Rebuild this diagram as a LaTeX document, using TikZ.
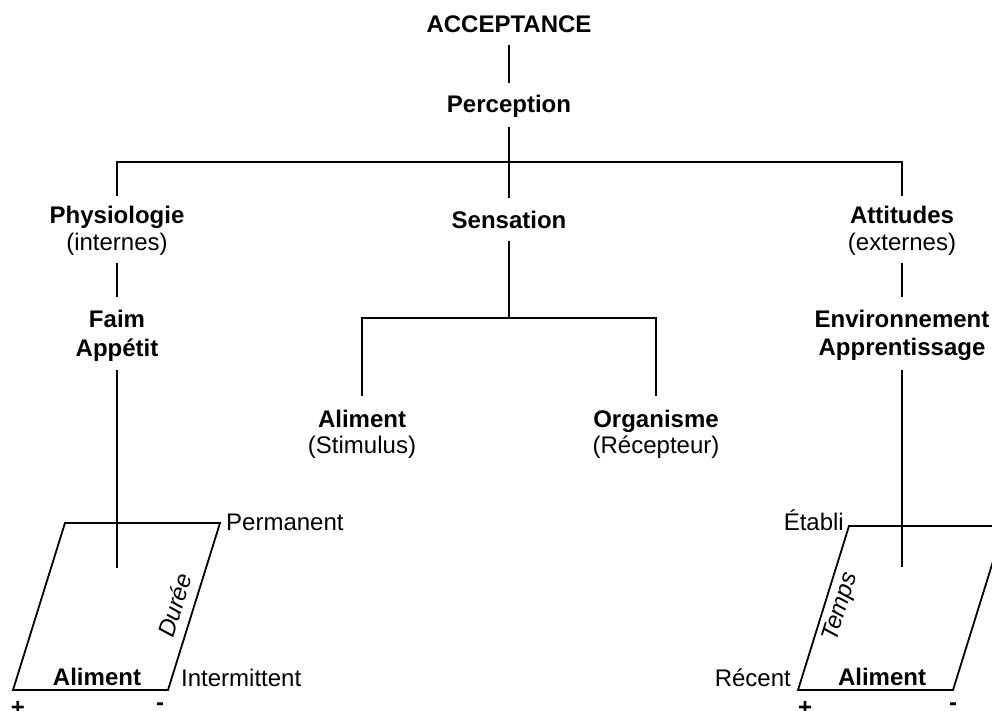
\documentclass[tikz,border=0pt]{standalone}
\usepackage{fontspec}
\setmainfont{Liberation Sans}
\begin{document}
\begin{tikzpicture}[x=1pt,y=-1pt,
  lbl/.style={inner sep=0pt, anchor=base, text height=17pt, text depth=5pt, font=\fontsize{24}{28}\selectfont},
  hd/.style={lbl, font=\fontsize{24}{28}\selectfont\bfseries},
  slanted/.style={lbl, anchor=center, rotate=72.7, font=\fontsize{24}{28}\selectfont\itshape},
  conn/.style={line width=1.6pt},
  frame/.style={line width=1.8pt, line join=miter}]
\useasboundingbox (0,0) rectangle (992,711);

% tree nodes
\node[hd] (acc) at (509,33) {ACCEPTANCE};
\node[hd] (perc) at (509,113) {Perception};
\node[hd] (phys) at (117,223) {Physiologie};
\node[lbl] (int) at (117,251) {(internes)};
\node[hd] (sens) at (509,229) {Sensation};
\node[hd] (att) at (902,223) {Attitudes};
\node[lbl] (ext) at (902,251) {(externes)};
\node[hd] (faim) at (117,327) {Faim};
\node[hd] (app) at (117,356) {Appétit};
\node[hd] (env) at (902,327) {Environnement};
\node[hd] (appr) at (902,355) {Apprentissage};
\node[hd] (alim) at (362,427) {Aliment};
\node[lbl] (stim) at (362,453) {(Stimulus)};
\node[hd] (org) at (656,427) {Organisme};
\node[lbl] (rec) at (656,453) {(Récepteur)};

% junctions and free ends
\coordinate (tj) at (509,162);
\coordinate (sj) at (509,318);
\coordinate (lend) at (117,568);
\coordinate (rend) at (902,567);

% connectors
\draw[conn] ([yshift=-7pt]acc.south) -- ([yshift=13pt]perc.north);
\draw[conn] ([yshift=-9pt]perc.south) -- ([yshift=14pt]sens.north);
\draw[conn] ([yshift=10pt]phys.north) |- (tj) -| ([yshift=10pt]att.north);
\draw[conn] ([yshift=-7pt]int.south) -- ([yshift=13pt]faim.north);
\draw[conn] ([yshift=-9pt]app.south) -- (lend);
\draw[conn] ([yshift=-7pt]ext.south) -- ([yshift=13pt]env.north);
\draw[conn] ([yshift=-10pt]appr.south) -- (rend);
\draw[conn] ([yshift=-7pt]sens.south) -- (sj);
\draw[conn] ([yshift=14pt]alim.north) |- (sj) -| ([yshift=14pt]org.north);

% left parallelogram
\coordinate (l1) at (13,690);
\coordinate (l2) at (168,690);
\coordinate (l3) at (220,523);
\coordinate (l4) at (65,523);
\draw[frame] (l1) -- (l2) -- (l3) -- (l4) -- cycle;
\node[lbl, anchor=base west] (perm) at (226,530) {Permanent};
\node[lbl, anchor=base west] (inter) at (181,686) {Intermittent};
\node[hd] (alimL) at (97,685) {Aliment};
\node[hd] (plusL) at (18,715) {+};
\node[hd] (minusL) at (160,710) {-};
\node[slanted] (duree) at (177,606) {Durée};

% right parallelogram (cut by the right edge)
\coordinate (r1) at (798,690);
\coordinate (r2) at (953,690);
\coordinate (r3) at (1004,526);
\coordinate (r4) at (849,526);
\begin{scope}
\clip (0,0) rectangle (992,711);
\draw[frame] (r1) -- (r2) -- (r3) -- (r4) -- cycle;
\end{scope}
\node[lbl, anchor=base east] (etab) at (844,530) {Établi};
\node[lbl, anchor=base east] (recent) at (791,686) {Récent};
\node[hd] (alimR) at (882,685) {Aliment};
\node[hd] (plusR) at (805,715) {+};
\node[hd] (minusR) at (953,710) {-};
\node[slanted] (temps) at (841,607) {Temps};
\end{tikzpicture}
\end{document}
